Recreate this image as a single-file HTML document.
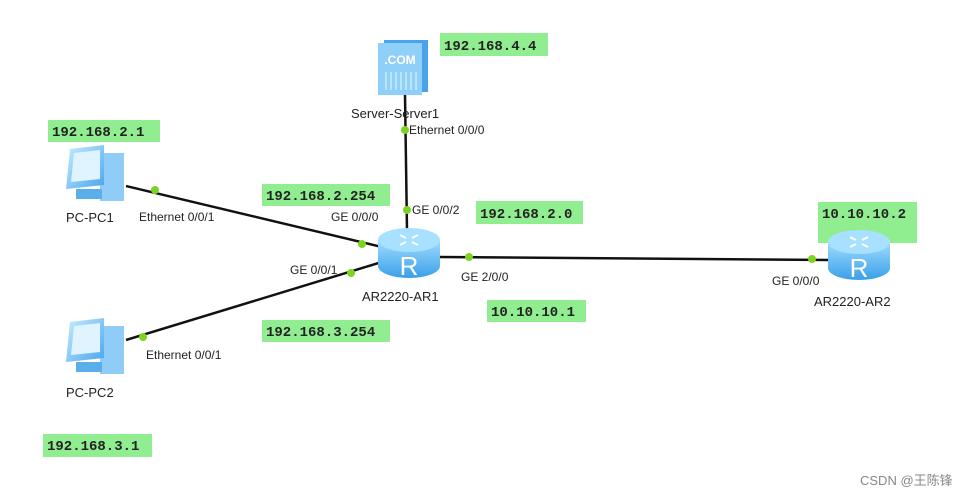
<!DOCTYPE html>
<html><head><meta charset="utf-8"><style>
html,body{margin:0;padding:0;background:#fff;}
svg{display:block;}
.m{font-family:"Liberation Mono",monospace;font-size:14px;font-weight:bold;fill:#222;}
.s{font-family:"Liberation Sans",sans-serif;font-size:12px;fill:#222;}
.n{font-family:"Liberation Sans",sans-serif;font-size:13px;fill:#222;}
</style></head><body>
<svg width="972" height="497" viewBox="0 0 972 497" xmlns="http://www.w3.org/2000/svg">
<defs>
<linearGradient id="rg" x1="0" y1="0" x2="0" y2="1"><stop offset="0" stop-color="#9fdcff"/><stop offset="1" stop-color="#3aa0e8"/></linearGradient>
<linearGradient id="pg" x1="0" y1="0" x2="1" y2="1"><stop offset="0" stop-color="#c8ecff"/><stop offset="1" stop-color="#4aa6ef"/></linearGradient>
<g id="router">
<path d="M0,14 L0,40 A31,12 0 0 0 62,40 L62,14 Z" fill="url(#rg)"/>
<ellipse cx="31" cy="14" rx="31" ry="12" fill="#a8e0ff"/>
<text x="31" y="49" text-anchor="middle" font-family="Liberation Sans,sans-serif" font-size="26" fill="#fff">R</text>
<path d="M22,9 l6,3 M40,9 l-6,3 M22,19 l6,-3 M40,19 l-6,-3" stroke="#fff" stroke-width="2"/>
</g>
<g id="pc">
<rect x="36" y="8" width="24" height="48" fill="#8fcdf8"/>
<path d="M6,4 L40,0 L40,40 L2,44 Z" fill="url(#pg)"/>
<path d="M10,8 L36,5 L36,34 L7,37 Z" fill="#dff4ff"/>
<rect x="12" y="44" width="26" height="10" fill="#5aaeea"/>
</g>
</defs>
<!-- labels -->
<g fill="#90ee90">
<rect x="440" y="33" width="108" height="23"/>
<rect x="48" y="120" width="112" height="22"/>
<rect x="262" y="184" width="128" height="22"/>
<rect x="476" y="201" width="107" height="23"/>
<rect x="818" y="202" width="99" height="41"/>
<rect x="487" y="300" width="99" height="22"/>
<rect x="262" y="320" width="128" height="22"/>
<rect x="43" y="434" width="109" height="23"/>
</g>
<text class="m" x="444" y="50">192.168.4.4</text>
<text class="m" x="52" y="136">192.168.2.1</text>
<text class="m" x="266" y="200">192.168.2.254</text>
<text class="m" x="480" y="218">192.168.2.0</text>
<text class="m" x="822" y="218">10.10.10.2</text>
<text class="m" x="491" y="316">10.10.10.1</text>
<text class="m" x="266" y="336">192.168.3.254</text>
<text class="m" x="47" y="450">192.168.3.1</text>
<!-- lines -->
<g stroke="#111" stroke-width="2.5">
<line x1="126" y1="186" x2="382" y2="247"/>
<line x1="126" y1="340" x2="382" y2="262"/>
<line x1="405" y1="95" x2="407" y2="230"/>
<line x1="440" y1="257" x2="830" y2="260"/>
</g>
<!-- devices -->
<g transform="translate(378,40)">
<rect x="6" y="0" width="44" height="52" fill="#4aa2ea"/>
<rect x="0" y="3" width="44" height="52" fill="#8fd0fb"/>
<text x="22" y="24" text-anchor="middle" font-family="Liberation Sans,sans-serif" font-weight="bold" font-size="12" fill="#fff">.COM</text>
<path d="M8,32 v18 M13,32 v18 M18,32 v18 M23,32 v18 M28,32 v18 M33,32 v18 M38,32 v18" stroke="#e8f7ff" stroke-width="1"/>
</g>
<use href="#router" x="378" y="226"/>
<use href="#router" x="828" y="228"/>
<use href="#pc" x="64" y="145"/>
<use href="#pc" x="64" y="318"/>
<!-- dots -->
<g fill="#7ed321">
<circle cx="155" cy="190" r="4"/><circle cx="362" cy="244" r="4"/>
<circle cx="143" cy="337" r="4"/><circle cx="351" cy="273" r="4"/>
<circle cx="405" cy="130" r="4"/><circle cx="407" cy="210" r="4"/>
<circle cx="469" cy="257" r="4"/><circle cx="812" cy="259" r="4"/>
</g>
<!-- texts -->
<text class="n" x="351" y="118">Server-Server1</text>
<text class="s" x="409" y="134">Ethernet 0/0/0</text>
<text class="s" x="412" y="214">GE 0/0/2</text>
<text class="s" x="331" y="221">GE 0/0/0</text>
<text class="s" x="290" y="274">GE 0/0/1</text>
<text class="s" x="461" y="281">GE 2/0/0</text>
<text class="n" x="362" y="301">AR2220-AR1</text>
<text class="s" x="772" y="285">GE 0/0/0</text>
<text class="n" x="814" y="306">AR2220-AR2</text>
<text class="n" x="66" y="222">PC-PC1</text>
<text class="s" x="139" y="221">Ethernet 0/0/1</text>
<text class="n" x="66" y="397">PC-PC2</text>
<text class="s" x="146" y="359">Ethernet 0/0/1</text>
<text x="860" y="485" font-family="Liberation Sans,'Noto Sans CJK SC',sans-serif" font-size="13" fill="#888">CSDN @王陈锋</text>
</svg>
</body></html>
